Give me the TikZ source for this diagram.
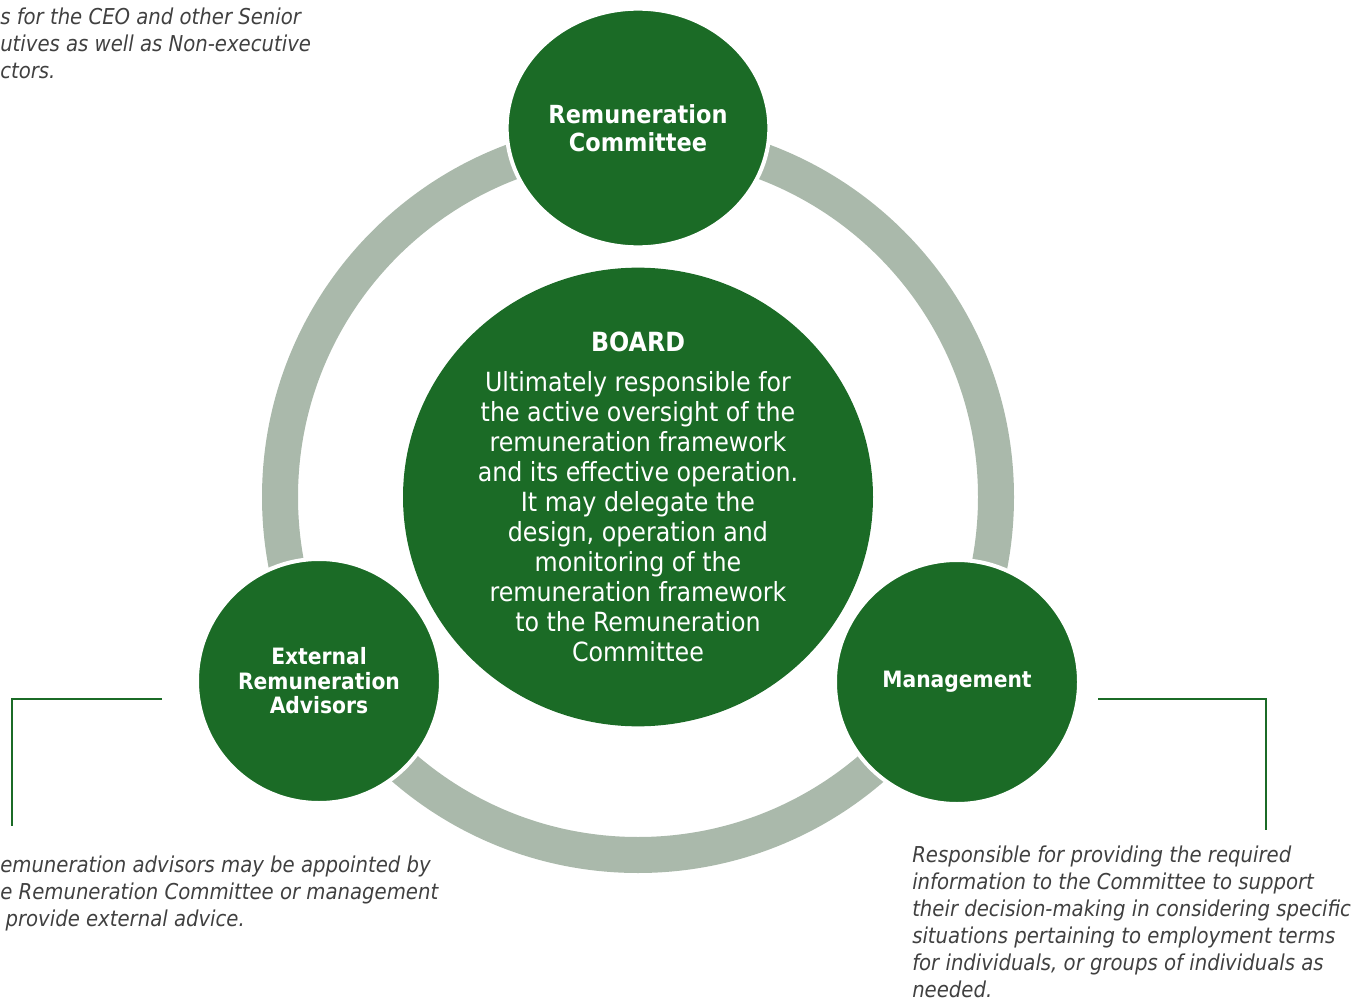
\documentclass[tikz,border=0pt]{standalone}
\usepackage{fontspec}
\setmainfont{DejaVu Sans Condensed}
\usetikzlibrary{positioning, shapes.geometric}
\definecolor{boardgreen}{HTML}{1B6B26}
\definecolor{ringgrey}{HTML}{AAB9AB}
\definecolor{notegrey}{HTML}{404040}
\tikzset{%
	board/.style={ellipse, fill=boardgreen, text=white, align=center,%
		minimum width=352.5pt, minimum height=344pt, inner xsep=0pt, inner ysep=-12pt,%
		font=\fontsize{19.8}{22.5}\selectfont},
	role/.style={circle, draw=white, line width=3pt, fill=boardgreen, text=white,%
		align=center, minimum size=183pt, inner sep=0pt, font=\bfseries\fontsize{16.9}{18.4}\selectfont},
	ring/.style={ringgrey, line width=27pt},
	bracket/.style={boardgreen, line width=1.1pt},
	note/.style={text=notegrey, align=left, inner sep=0pt,%
		font=\itshape\fontsize{16.4}{20.25}\selectfont}
}
\begin{document}
\begin{tikzpicture}[x=0.75pt, y=-0.75pt]
		\useasboundingbox (0,0) rectangle (1354,1002);
		\coordinate (hub) at (638,497);
		\draw [ring] (hub) circle [radius=358];

		\node[board] (board) at (hub) {\textbf{BOARD}\\[7.5pt]
			Ultimately responsible for\\
			the active oversight of the\\ remuneration framework\\
			and its effective operation.\\ It may delegate the\\
			design, operation and\\ monitoring of the\\
			remuneration framework\\ to the Remuneration\\ Committee};
		\node[role, ellipse, minimum width=197pt, minimum height=179pt,%
			font=\bfseries\fontsize{18.7}{21}\selectfont] (remco) at (638,128) {Remuneration\\ Committee};
		\node[role] (advisors) at (319,681) {External\\ Remuneration\\ Advisors};
		\node[role] (mgmt) at (957,682) {Management};

		% call-out brackets
		\coordinate (adv-a) at (162,699);
		\coordinate (adv-b) at (12,699);
		\coordinate (adv-c) at (12,826);
		\coordinate (mgmt-a) at (1098,699);
		\coordinate (mgmt-b) at (1266,699);
		\coordinate (mgmt-c) at (1266,830);
		\draw [bracket] (adv-a) -- (adv-b) -- (adv-c);
		\draw [bracket] (mgmt-a) -- (mgmt-b) -- (mgmt-c);

		\node[note, anchor=north west] (remco-note) at (0,8) {s for the CEO and other Senior\\
			utives as well as Non-executive\\ ctors.};
		\node[note, anchor=north west] (adv-note) at (0,856) {emuneration advisors may be appointed by\\
			e Remuneration Committee or management\\ \hspace*{4pt}provide external advice.};
		\node[note, anchor=north west] (mgmt-note) at (912,846) {Responsible for providing the required\\
			information to the Committee to support\\ their decision-making in considering specific\\
			situations pertaining to employment terms\\ for individuals, or groups of individuals as\\ needed.};
	\end{tikzpicture}
\end{document}
